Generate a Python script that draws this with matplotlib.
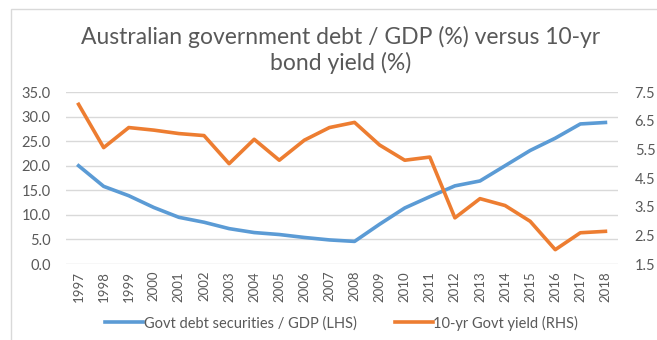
import matplotlib
matplotlib.use('Agg')
import matplotlib.pyplot as plt
from matplotlib.patches import Rectangle
import numpy as np

years = [str(y) for y in range(1997, 2019)]
debt_gdp = [20.0, 15.8, 13.9, 11.5, 9.5, 8.5, 7.2, 6.4, 6.0, 5.4, 4.9, 4.6,
            8.1, 11.4, 13.7, 15.9, 16.9, 20.0, 23.1, 25.6, 28.5, 28.8]
bond_yield = [7.07, 5.56, 6.26, 6.17, 6.05, 5.98, 5.00, 5.85, 5.12, 5.82, 6.26, 6.44,
              5.65, 5.12, 5.23, 3.11, 3.78, 3.54, 2.99, 2.00, 2.59, 2.64]

blue = '#5B9BD5'
orange = '#ED7D31'
grey = '#595959'
plt.rcParams['font.family'] = ['Lato', 'DejaVu Sans']

fig = plt.figure(figsize=(6.57, 3.4), dpi=100)
fig.patches.append(Rectangle((11 / 657, -0.1), 1.2, 1 - 9 / 340 + 0.1,
                             transform=fig.transFigure, fill=False,
                             edgecolor='#D9D9D9', lw=1))

ax = fig.add_axes([0.1005, 0.2235, 0.8401, 0.5059])
x = np.arange(len(years))
l1, = ax.plot(x, debt_gdp, color=blue, lw=2.6, solid_joinstyle='round',
              label='Govt debt securities / GDP (LHS)')
ax.set_ylim(0, 35)
ax.set_yticks(np.arange(0, 36, 5))
ax.set_yticklabels([f'{v:.1f}' for v in np.arange(0, 36, 5)])
ax.set_xlim(-0.5, len(years) - 0.5)
ax.set_xticks(x)
ax.set_xticklabels(years, rotation=90)
ax.grid(axis='y', color='#D9D9D9', lw=1)
ax.set_axisbelow(True)

ax2 = ax.twinx()
l2, = ax2.plot(x, bond_yield, color=orange, lw=2.6, solid_joinstyle='round',
               label='10-yr Govt yield (RHS)')
ax2.set_ylim(1.5, 7.5)
ax2.set_yticks(np.arange(1.5, 7.6, 1.0))
ax2.set_yticklabels([f'{v:.1f}' for v in np.arange(1.5, 7.6, 1.0)])

for a in (ax, ax2):
    for s in a.spines.values():
        s.set_visible(False)
    a.tick_params(length=0, colors=grey, labelsize=10.5)
ax.tick_params(axis='y', pad=11)
ax2.tick_params(axis='y', pad=12)
ax.tick_params(axis='x', pad=5, labelsize=9.5)

fig.text(0.518, 0.853, 'Australian government debt / GDP (%) versus 10-yr\nbond yield (%)',
         ha='center', va='center', fontsize=16.5, color=grey, linespacing=1.2)

fig.legend(handles=[l1, l2], loc='center', bbox_to_anchor=(0.52, 0.05), ncol=2,
           frameon=False, fontsize=10.5, labelcolor=grey, handlelength=2.6,
           handletextpad=0.05, columnspacing=2.6)

plt.savefig('out.png', dpi=100)
plt.close()
